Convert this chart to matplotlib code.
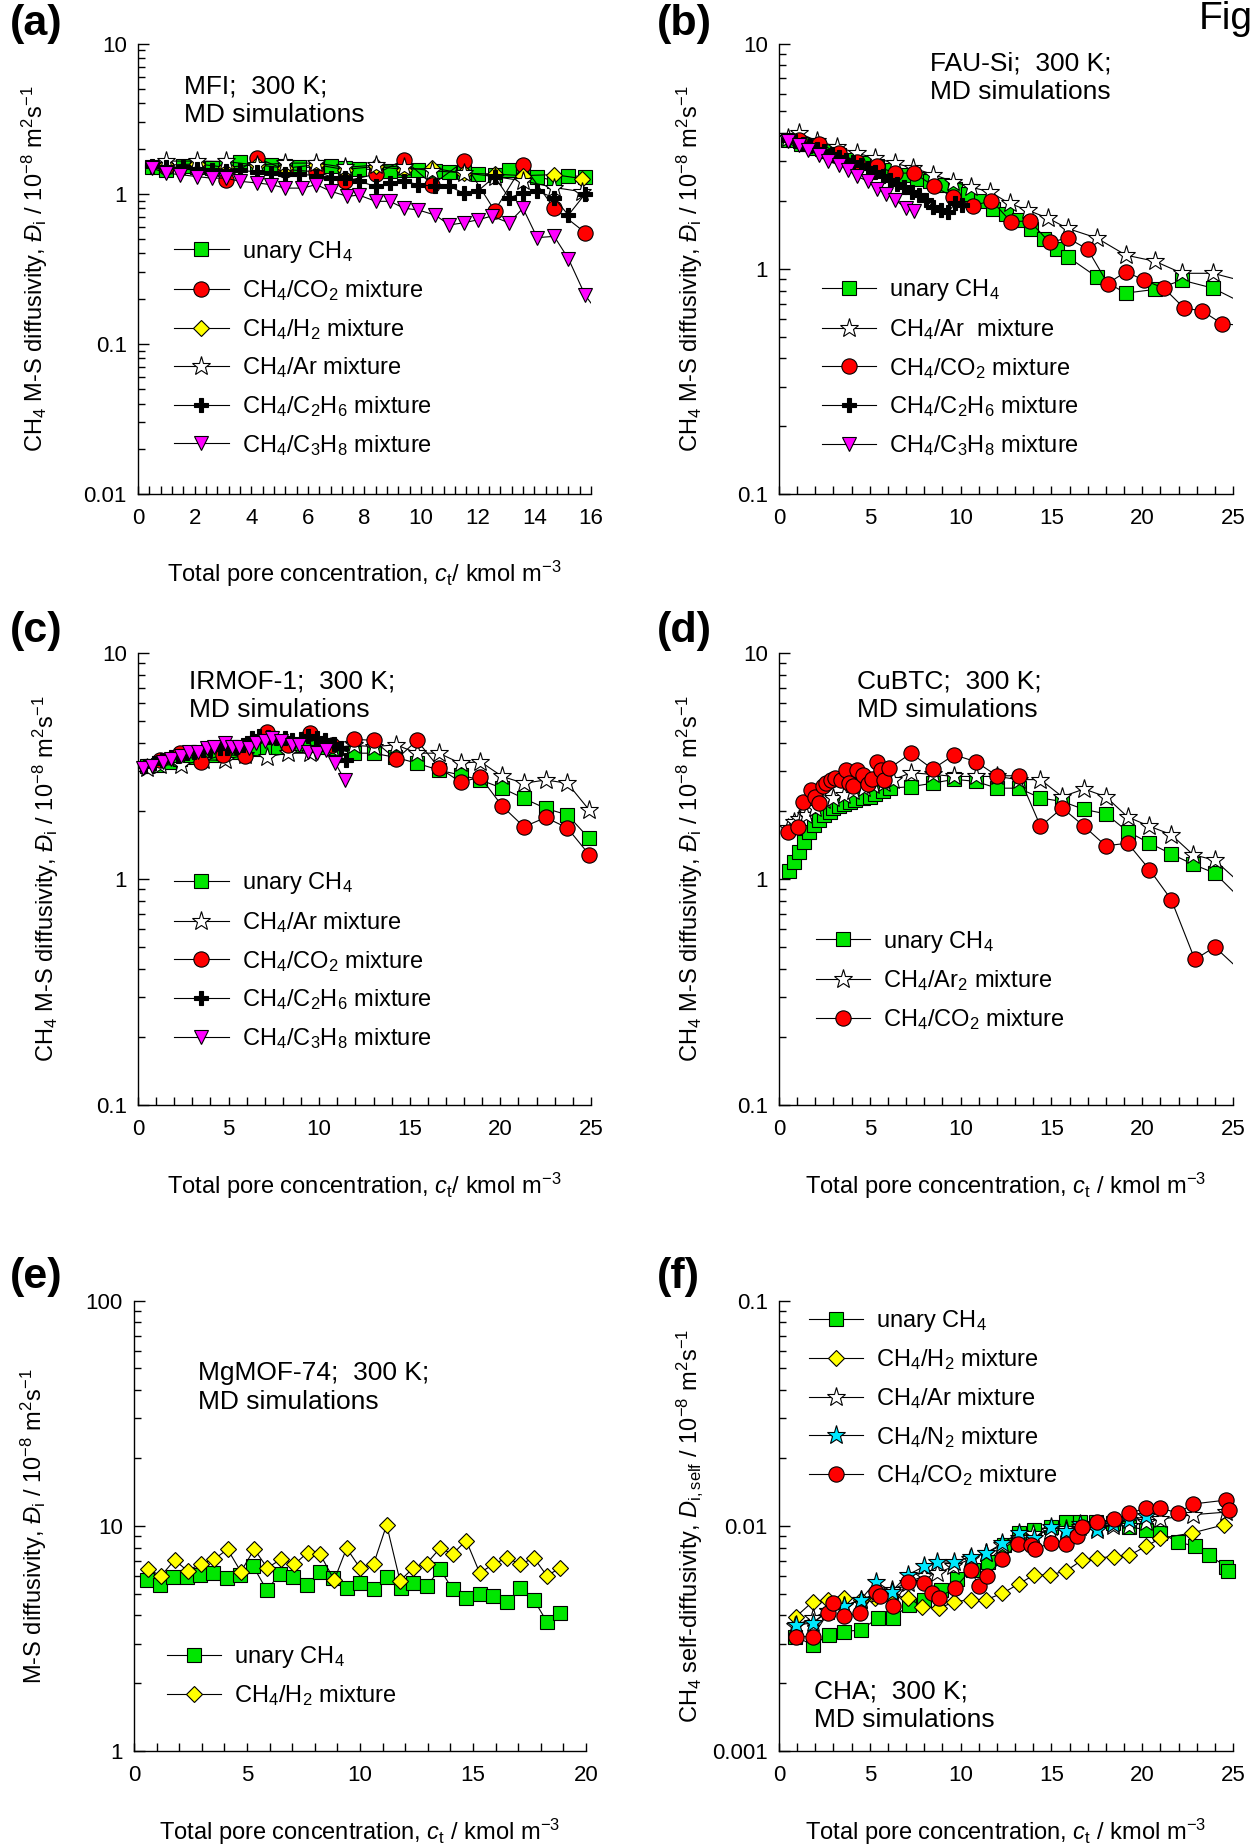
import numpy as np
import matplotlib
matplotlib.use('Agg')
import matplotlib.pyplot as plt
from matplotlib.lines import Line2D
from matplotlib.ticker import FixedLocator, MultipleLocator, LogLocator, NullFormatter

plt.rcParams['font.family'] = ['Liberation Sans', 'DejaVu Sans']
plt.rcParams['mathtext.fontset'] = 'custom'
plt.rcParams['mathtext.rm'] = 'Liberation Sans'
plt.rcParams['mathtext.it'] = 'Liberation Sans:italic'
plt.rcParams['mathtext.bf'] = 'Liberation Sans:bold'

# ---------------- data ----------------
# (a) MFI
a_unary_x = [0.5, 1.0, 1.6, 2.1, 2.6, 3.1, 3.6, 4.2, 4.7, 5.2, 5.7, 6.3, 6.8, 7.3, 7.8, 8.4, 8.9, 9.4, 9.9, 10.5,
             11.0, 11.5, 12.0, 12.6, 13.1, 13.6, 14.1, 14.7, 15.2, 15.8]
a_unary_y = [1.50, 1.45, 1.52, 1.50, 1.48, 1.55, 1.62, 1.60, 1.55, 1.52, 1.50, 1.50, 1.52, 1.48, 1.46, 1.45, 1.42,
             1.45, 1.44, 1.42, 1.40, 1.40, 1.36, 1.34, 1.45, 1.38, 1.30, 1.22, 1.32, 1.30]
a_co2_x = [1.0, 2.1, 3.1, 4.2, 5.2, 6.3, 7.3, 8.4, 9.4, 10.4, 11.5, 12.6, 13.6, 14.7, 15.8]
a_co2_y = [1.50, 1.50, 1.24, 1.73, 1.45, 1.40, 1.21, 1.35, 1.69, 1.15, 1.64, 0.77, 1.56, 0.80, 0.55]
a_h2_x = [1.0, 2.1, 3.1, 4.2, 5.2, 6.3, 7.3, 8.4, 9.4, 10.4, 11.5, 12.6, 13.6, 14.7, 15.7]
a_h2_y = [1.55, 1.58, 1.50, 1.56, 1.48, 1.56, 1.45, 1.52, 1.45, 1.48, 1.37, 1.35, 1.32, 1.34, 1.26]
a_ar_x = [1.0, 2.1, 3.1, 4.2, 5.2, 6.3, 7.3, 8.4, 9.4, 10.4, 11.5, 12.6, 13.6, 14.7, 15.7]
a_ar_y = [1.65, 1.65, 1.64, 1.55, 1.60, 1.60, 1.50, 1.55, 1.50, 1.42, 1.38, 1.30, 1.22, 1.10, 1.03]
a_c2h6_x = [0.5, 1.0, 1.6, 2.1, 2.6, 3.1, 3.6, 4.2, 4.7, 5.2, 5.7, 6.3, 6.8, 7.3, 7.8, 8.4, 8.9, 9.4, 9.9, 10.5,
            11.0, 11.5, 12.0, 12.6, 13.1, 13.6, 14.1, 14.7, 15.2, 15.8]
a_c2h6_y = [1.52, 1.50, 1.50, 1.47, 1.45, 1.42, 1.43, 1.40, 1.38, 1.36, 1.35, 1.32, 1.27, 1.28, 1.21, 1.12, 1.18,
            1.21, 1.15, 1.12, 1.12, 1.01, 1.04, 1.30, 0.94, 1.01, 1.04, 0.94, 0.72, 1.00]
a_c3h8_x = [0.5, 1.0, 1.5, 2.1, 2.6, 3.1, 3.6, 4.2, 4.7, 5.2, 5.8, 6.3, 6.8, 7.4, 7.8, 8.4, 8.9, 9.4, 9.9, 10.5,
            11.0, 11.5, 12.0, 12.5, 13.1, 13.6, 14.1, 14.7, 15.2, 15.8, 16.5]
a_c3h8_y = [1.48, 1.37, 1.34, 1.30, 1.27, 1.27, 1.21, 1.18, 1.15, 1.09, 1.09, 1.15, 1.04, 0.96, 0.98, 0.89, 0.89,
            0.80, 0.78, 0.72, 0.62, 0.64, 0.67, 0.71, 0.64, 0.80, 0.51, 0.52, 0.37, 0.21, 0.14]

# (b) FAU-Si
b_unary_x = [0.5, 1.2, 1.9, 2.6, 3.3, 4.0, 4.7, 5.4, 6.2, 6.9, 7.6, 8.3, 9.0, 9.7, 10.4, 11.1, 11.8, 12.5, 13.2,
             13.9, 14.6, 15.3, 15.9, 17.5, 19.1, 20.7, 22.2, 23.9, 25.6]
b_unary_y = [3.75, 3.6, 3.45, 3.35, 3.2, 3.05, 2.95, 2.85, 2.75, 2.6, 2.5, 2.45, 2.35, 2.25, 2.15, 2.0, 1.85, 1.75,
             1.65, 1.5, 1.35, 1.22, 1.13, 0.92, 0.78, 0.81, 0.89, 0.82, 0.70]
b_ar_x = [0.5, 1.1, 2.1, 3.2, 4.3, 5.3, 6.4, 7.4, 8.5, 9.6, 10.6, 11.6, 12.7, 13.7, 14.8, 15.9, 17.5, 19.1, 20.7,
          22.2, 23.9, 25.6]
b_ar_y = [3.8, 4.0, 3.7, 3.48, 3.26, 3.10, 2.94, 2.80, 2.62, 2.44, 2.30, 2.20, 1.95, 1.82, 1.68, 1.51, 1.37, 1.15,
          1.08, 0.955, 0.955, 0.88]
b_co2_x = [1.1, 2.2, 3.3, 4.3, 5.4, 6.4, 7.45, 8.55, 9.56, 10.66, 11.7, 12.77, 13.8, 14.9, 15.9, 17.0, 18.1, 19.1,
           20.1, 21.2, 22.3, 23.3, 24.4, 25.6]
b_co2_y = [3.75, 3.6, 3.26, 2.99, 2.85, 2.66, 2.66, 2.32, 2.09, 1.90, 2.01, 1.62, 1.63, 1.31, 1.37, 1.22, 0.86, 0.97,
           0.89, 0.82, 0.67, 0.65, 0.57, 0.56]
b_c2h6_x = [0.5, 0.9, 1.3, 1.7, 2.1, 2.5, 2.9, 3.3, 3.7, 4.1, 4.5, 4.9, 5.3, 5.7, 6.1, 6.5, 6.9, 7.3, 7.7, 8.1, 8.5,
            8.9, 9.3, 9.7, 10.1]
b_c2h6_y = [3.75, 3.68, 3.60, 3.50, 3.42, 3.33, 3.25, 3.15, 3.05, 2.98, 2.90, 2.80, 2.68, 2.57, 2.48, 2.38, 2.30,
            2.20, 2.12, 2.02, 1.88, 1.82, 1.78, 1.95, 1.92]
b_c3h8_x = [0.5, 1.1, 1.6, 2.2, 2.7, 3.3, 3.8, 4.3, 4.9, 5.4, 5.9, 6.4, 7.0, 7.45]
b_c3h8_y = [3.7, 3.55, 3.37, 3.2, 3.0, 2.9, 2.75, 2.57, 2.45, 2.27, 2.15, 2.02, 1.86, 1.80]

# (c) IRMOF-1
c_unary_x = [0.5, 1.1, 1.7, 2.3, 2.9, 3.5, 4.1, 4.7, 5.3, 5.9, 6.5, 7.1, 7.7, 8.3, 8.9, 9.5, 10.1, 10.7, 11.9, 13.0,
             14.2, 15.4, 16.6, 17.8, 18.9, 20.1, 21.3, 22.5, 23.7, 24.9]
c_unary_y = [3.15, 3.2, 3.3, 3.4, 3.45, 3.5, 3.55, 3.6, 3.65, 3.7, 3.75, 3.8, 3.85, 3.9, 3.9, 3.9, 3.85, 3.8, 3.6,
             3.6, 3.45, 3.25, 3.03, 2.88, 2.74, 2.52, 2.27, 2.05, 1.92, 1.51]
c_ar_x = [0.5, 1.2, 2.4, 3.6, 4.8, 5.9, 7.1, 8.3, 9.5, 10.7, 11.9, 13.0, 14.25, 15.4, 16.6, 17.8, 18.9, 20.1, 21.3,
          22.5, 23.7, 24.9]
c_ar_y = [3.1, 3.2, 3.19, 3.36, 3.35, 3.55, 3.47, 3.6, 3.6, 3.79, 3.9, 3.85, 3.92, 3.6, 3.6, 3.25, 3.3, 2.84, 2.65,
          2.74, 2.65, 2.02]
c_co2_x = [1.2, 2.3, 3.5, 4.7, 5.9, 7.1, 8.3, 9.5, 10.7, 11.9, 13.0, 14.25, 15.4, 16.6, 17.8, 18.9, 20.1, 21.3, 22.5,
           23.7, 24.9]
c_co2_y = [3.35, 3.6, 3.3, 3.55, 3.5, 4.45, 3.9, 4.4, 3.9, 4.15, 4.1, 3.38, 4.1, 3.11, 2.68, 2.82, 2.10, 1.70, 1.87,
           1.68, 1.28]
c_c2h6_x = [0.4, 0.9, 1.3, 1.8, 2.2, 2.7, 3.1, 3.6, 4.0, 4.5, 4.9, 5.4, 5.8, 6.3, 6.7, 7.2, 7.6, 8.1, 8.5, 9.0, 9.4,
            9.9, 10.3, 10.8, 11.2, 11.5]
c_c2h6_y = [3.15, 3.25, 3.35, 3.45, 3.5, 3.6, 3.65, 3.7, 3.75, 3.8, 3.8, 3.85, 3.9, 4.2, 4.3, 4.25, 4.2, 4.2, 4.1,
            4.15, 4.3, 4.2, 4.1, 3.95, 3.8, 3.35]
c_c3h8_x = [0.3, 0.8, 1.4, 1.8, 2.4, 2.8, 3.3, 3.8, 4.2, 4.8, 5.2, 5.6, 6.1, 6.5, 7.0, 7.4, 7.9, 8.5, 8.9, 9.4, 9.9,
            10.4, 10.9, 11.4]
c_c3h8_y = [3.09, 3.15, 3.3, 3.4, 3.49, 3.65, 3.65, 3.79, 3.85, 3.98, 3.85, 3.85, 3.79, 3.98, 4.07, 4.22, 4.07, 3.92,
            3.92, 3.65, 3.6, 3.72, 3.25, 2.74]

# (d) CuBTC
d_unary_x = [0.57, 0.84, 1.12, 1.39, 1.67, 1.94, 2.2, 2.5, 2.8, 3.0, 3.3, 3.6, 3.9, 4.2, 4.6, 5.0, 5.3, 5.7, 6.1,
             7.27, 8.46, 9.65, 10.84, 12.0, 13.2, 14.4, 15.6, 16.8, 18.0, 19.2, 20.4, 21.6, 22.8, 24.0, 25.6]
d_unary_y = [1.08, 1.19, 1.32, 1.46, 1.62, 1.73, 1.82, 1.92, 1.98, 2.05, 2.1, 2.15, 2.2, 2.24, 2.28, 2.31, 2.38, 2.44,
             2.52, 2.56, 2.65, 2.76, 2.7, 2.52, 2.52, 2.28, 2.2, 2.03, 1.94, 1.62, 1.44, 1.29, 1.16, 1.06, 0.79]
d_ar_x = [0.5, 0.8, 1.1, 1.5, 2.0, 2.5, 3.0, 3.6, 4.1, 4.7, 5.2, 5.8, 6.3, 7.27, 8.46, 9.65, 10.84, 12.0, 13.2,
          14.4, 15.6, 16.8, 18.0, 19.2, 20.4, 21.6, 22.8, 24.0, 25.6]
d_ar_y = [1.68, 1.78, 1.85, 1.92, 2.05, 2.24, 2.28, 2.35, 2.45, 2.52, 2.6, 2.65, 2.75, 2.95, 2.9, 2.84, 2.84, 2.84,
          2.75, 2.75, 2.31, 2.5, 2.31, 1.88, 1.71, 1.57, 1.28, 1.21, 0.925]
d_co2_x = [0.48, 1.03, 1.3, 1.76, 2.0, 2.2, 2.4, 2.6, 2.86, 3.1, 3.4, 3.69, 3.87, 4.1, 4.3, 4.6, 4.9, 5.1, 5.4, 5.6,
           5.8, 6.07, 7.27, 8.46, 9.65, 10.84, 12.0, 13.2, 14.4, 15.6, 16.8, 18.0, 19.2, 20.4, 21.6, 22.9, 24.0, 25.6]
d_co2_y = [1.62, 1.70, 2.2, 2.48, 2.3, 2.16, 2.58, 2.65, 2.74, 2.8, 2.74, 3.03, 2.65, 2.58, 3.03, 2.88, 2.62, 2.78,
           3.3, 3.03, 2.74, 3.08, 3.6, 3.06, 3.54, 3.3, 2.86, 2.86, 1.71, 2.06, 1.71, 1.40, 1.44, 1.10, 0.81, 0.44,
           0.50, 0.38]

# (e) MgMOF-74
e_unary_x = [0.56, 1.15, 1.74, 2.33, 2.92, 3.51, 4.1, 4.69, 5.28, 5.87, 6.46, 7.05, 7.64, 8.23, 8.82, 9.41, 10.0,
             10.6, 11.2, 11.8, 12.36, 12.95, 13.54, 14.1, 14.7, 15.3, 15.9, 16.5, 17.1, 17.7, 18.27, 18.86]
e_unary_y = [5.74, 5.46, 5.94, 5.94, 6.05, 6.2, 5.85, 6.05, 6.6, 5.19, 6.1, 5.9, 5.46, 6.25, 5.85, 5.27, 5.6, 5.22,
             5.9, 5.27, 5.55, 5.4, 6.42, 5.22, 4.77, 4.98, 4.9, 4.6, 5.27, 4.68, 3.75, 4.11]
e_h2_x = [0.6, 1.2, 1.8, 2.37, 2.96, 3.55, 4.14, 4.73, 5.32, 5.9, 6.5, 7.1, 7.68, 8.23, 8.86, 9.41, 10.0, 10.6,
          11.18, 11.77, 12.36, 12.95, 13.54, 14.1, 14.7, 15.3, 15.9, 16.5, 17.1, 17.7, 18.27, 18.86]
e_h2_y = [6.42, 6.0, 7.05, 6.3, 6.8, 7.1, 7.87, 6.25, 7.87, 6.5, 7.1, 6.75, 7.6, 7.5, 5.74, 7.95, 6.5, 6.75, 10.1,
          5.7, 6.5, 6.8, 7.95, 7.5, 8.6, 6.17, 6.75, 7.2, 6.75, 7.2, 6.0, 6.5]

# (f) CHA, self-diffusivities
f_unary_x = [0.9, 1.85, 2.77, 3.6, 4.5, 5.43, 6.26, 7.17, 8.0, 8.9, 9.8, 10.66, 11.5, 12.4, 13.2, 14.05, 15.0, 15.8,
             16.6, 17.45, 18.4, 19.3, 20.2, 21.0, 21.95, 22.9, 23.7, 24.6, 24.7]
f_unary_y = [0.00322, 0.00296, 0.00327, 0.00339, 0.00345, 0.00388, 0.0039, 0.00445, 0.0047, 0.00519, 0.0058,
             0.00637, 0.00694, 0.00822, 0.00927, 0.0096, 0.0099, 0.0104, 0.0104, 0.0104, 0.0103, 0.0099, 0.0096,
             0.0093, 0.0085, 0.0081, 0.0074, 0.00659, 0.0063]
f_h2_x = [0.94, 1.85, 2.7, 3.6, 4.5, 5.3, 6.2, 7.08, 7.9, 8.8, 9.65, 10.57, 11.4, 12.3, 13.2, 14.05, 14.9, 15.8,
          16.7, 17.5, 18.46, 19.3, 20.2, 21.0, 22.77, 24.5]
f_h2_y = [0.00395, 0.0046, 0.0047, 0.0048, 0.0047, 0.0048, 0.0049, 0.0048, 0.00438, 0.0043, 0.0046, 0.0047, 0.0047,
          0.00501, 0.00552, 0.00605, 0.00605, 0.0063, 0.00705, 0.0072, 0.0073, 0.0074, 0.0081, 0.0088, 0.0093,
          0.0101]
f_ar_x = [0.9, 1.85, 2.7, 3.6, 4.5, 5.4, 6.2, 7.1, 8.0, 8.7, 9.6, 10.5, 11.4, 12.3, 13.2, 14.0, 14.9, 15.8, 16.6,
          17.5, 18.4, 19.3, 20.2, 21.0, 22.8, 24.6]
f_ar_y = [0.0036, 0.0039, 0.0042, 0.0044, 0.0047, 0.0050, 0.0052, 0.0056, 0.0060, 0.00615, 0.0066, 0.0071, 0.0076,
          0.0082, 0.0088, 0.0092, 0.0095, 0.0097, 0.0099, 0.0098, 0.0100, 0.0100, 0.0104, 0.0107, 0.0112, 0.0115]
f_n2_x = [0.94, 1.85, 2.7, 3.6, 4.5, 5.34, 6.2, 7.08, 8.0, 8.7, 9.65, 10.57, 11.4, 12.3, 13.2, 14.05, 15.0, 15.8,
          16.6, 17.5, 18.4, 19.3, 20.2]
f_n2_y = [0.00363, 0.0037, 0.0042, 0.0044, 0.0047, 0.00565, 0.0051, 0.00605, 0.0066, 0.0069, 0.0069, 0.0073,
          0.00755, 0.00836, 0.0093, 0.0088, 0.0099, 0.0095, 0.0102, 0.0096, 0.0102, 0.0106, 0.0110]
f_co2_x = [0.94, 1.85, 2.68, 2.95, 3.6, 4.48, 5.34, 5.58, 6.26, 7.08, 7.96, 8.4, 8.8, 9.69, 10.57, 11.0, 11.45, 12.3,
           13.14, 13.9, 14.1, 15.0, 15.8, 16.4, 16.7, 17.5, 18.46, 19.3, 20.2, 21.0, 21.95, 22.8, 24.6, 24.8]
f_co2_y = [0.00322, 0.00322, 0.00408, 0.00456, 0.00397, 0.00408, 0.0051, 0.0049, 0.0044, 0.00565, 0.00555, 0.00505,
           0.0048, 0.0053, 0.00637, 0.0054, 0.00598, 0.0071, 0.0083, 0.0082, 0.0079, 0.0084, 0.0083, 0.0090, 0.0099,
           0.0104, 0.0107, 0.01135, 0.0120, 0.0120, 0.0114, 0.0125, 0.0130, 0.0118]

# tick labels
ticks_a = [0.01, 0.1, 1, 10]
labels_a = ['0.01', '0.1', '1', '10']
ticks_bcd = [0.1, 1, 10]
labels_bcd = ['0.1', '1', '10']
ticks_e = [1, 10, 100]
labels_e = ['1', '10', '100']
ticks_f = [0.001, 0.01, 0.1]
labels_f = ['0.001', '0.01', '0.1']

# ---------------- styling ----------------
STY = {
    'unary': dict(marker='s', markerfacecolor='#00e600', markersize=9.5),
    'co2': dict(marker='o', markerfacecolor='#ff0000', markersize=11),
    'h2': dict(marker='D', markerfacecolor='#ffff00', markersize=7.8),
    'ar': dict(marker='*', markerfacecolor='white', markersize=14),
    'n2': dict(marker='*', markerfacecolor='#00e8ff', markersize=14),
    'c2h6': dict(marker='P', markerfacecolor='black', markersize=10),
    'c3h8': dict(marker='v', markerfacecolor='#ff00ff', markersize=10.5),
}
LW = 0.8


def draw(ax, x, y, key, xmax, z):
    x = np.asarray(x)
    y = np.asarray(y)
    ax.plot(x, y, '-', color='black', lw=LW, zorder=z)
    keep = np.where(x <= xmax)[0]
    ax.plot(x[keep], y[keep], ls='none', markeredgecolor='black', markeredgewidth=0.8,
            clip_on=False, zorder=z + 0.5, **STY[key])


def legend(ax, keys, labels, anchor):
    handles = [Line2D([], [], color='black', lw=LW, markeredgecolor='black', markeredgewidth=0.8, **STY[k])
               for k in keys]
    ax.legend(handles, labels, loc='upper left', bbox_to_anchor=anchor, frameon=False, fontsize=17,
              handlelength=2.3, handletextpad=0.55, labelspacing=0.58, borderpad=0, borderaxespad=0,
              numpoints=1)


def setup(ax, xmax, xmaj, xmin, yticks, ylabels):
    ax.set_yscale('log')
    ax.set_xlim(0, xmax)
    ax.set_ylim(yticks[0], yticks[-1])
    for s in ['top', 'right']:
        ax.spines[s].set_visible(False)
    for s in ['left', 'bottom']:
        ax.spines[s].set_linewidth(1.0)
    ax.xaxis.set_major_locator(MultipleLocator(xmaj))
    ax.xaxis.set_minor_locator(MultipleLocator(xmin))
    ax.yaxis.set_major_locator(FixedLocator(yticks))
    ax.set_yticklabels(ylabels)
    ax.yaxis.set_minor_locator(LogLocator(base=10, subs=np.arange(2, 10)))
    ax.yaxis.set_minor_formatter(NullFormatter())
    ax.tick_params(axis='x', which='both', direction='in', length=6, width=1, labelsize=16, pad=10,
                   top=False)
    ax.tick_params(axis='y', which='major', direction='in', length=8, width=1, labelsize=16, pad=8,
                   right=False)
    ax.tick_params(axis='y', which='minor', direction='in', length=5, width=1, right=False)


def note(ax, x, y, txt):
    ax.text(x, y, txt, transform=ax.transAxes, fontsize=19, va='top', ha='left', linespacing=1.24)


fig = plt.figure(figsize=(12.51, 18.48), dpi=100)

ax_a = fig.add_axes([0.1103, 0.7327, 0.3621, 0.2437])
ax_b = fig.add_axes([0.6227, 0.7327, 0.3629, 0.2437])
ax_c = fig.add_axes([0.1103, 0.4021, 0.3621, 0.2446])
ax_d = fig.add_axes([0.6227, 0.4021, 0.3629, 0.2446])
ax_e = fig.add_axes([0.1071, 0.0525, 0.3613, 0.2437])
ax_f = fig.add_axes([0.6227, 0.0525, 0.3629, 0.2437])

ylab_md = r'CH$_4$ M-S diffusivity, $\mathit{Đ}_\mathrm{i}$ / 10$^{-8}$ m$^2$s$^{-1}$'
xlab1 = r'Total pore concentration, $\mathit{c}_\mathrm{t}$/ kmol m$^{-3}$'
xlab2 = r'Total pore concentration, $\mathit{c}_\mathrm{t}$ / kmol m$^{-3}$'

# (a)
setup(ax_a, 16, 2, 0.4, ticks_a, labels_a)
draw(ax_a, a_unary_x, a_unary_y, 'unary', 16, 2)
draw(ax_a, a_co2_x, a_co2_y, 'co2', 16, 3)
draw(ax_a, a_h2_x, a_h2_y, 'h2', 16, 4)
draw(ax_a, a_ar_x, a_ar_y, 'ar', 16, 5)
draw(ax_a, a_c2h6_x, a_c2h6_y, 'c2h6', 16, 6)
draw(ax_a, a_c3h8_x, a_c3h8_y, 'c3h8', 16, 7)
legend(ax_a, ['unary', 'co2', 'h2', 'ar', 'c2h6', 'c3h8'],
       ['unary CH$_4$', 'CH$_4$/CO$_2$ mixture', 'CH$_4$/H$_2$ mixture', 'CH$_4$/Ar mixture',
        'CH$_4$/C$_2$H$_6$ mixture', 'CH$_4$/C$_3$H$_8$ mixture'], (0.08, 0.567))
ax_a.set_ylabel(ylab_md, fontsize=17)
ax_a.yaxis.set_label_coords(-0.194, 0.5)
ax_a.set_xlabel(xlab1, fontsize=17)
ax_a.xaxis.set_label_coords(0.5, -0.145)
note(ax_a, 0.1015, 0.932, 'MFI;  300 K;\nMD simulations')

# (b)
setup(ax_b, 25, 5, 1, ticks_bcd, labels_bcd)
draw(ax_b, b_unary_x, b_unary_y, 'unary', 25, 2)
draw(ax_b, b_ar_x, b_ar_y, 'ar', 25, 3)
draw(ax_b, b_co2_x, b_co2_y, 'co2', 25, 4)
draw(ax_b, b_c2h6_x, b_c2h6_y, 'c2h6', 25, 5)
draw(ax_b, b_c3h8_x, b_c3h8_y, 'c3h8', 25, 6)
legend(ax_b, ['unary', 'ar', 'co2', 'c2h6', 'c3h8'],
       ['unary CH$_4$', 'CH$_4$/Ar  mixture', 'CH$_4$/CO$_2$ mixture', 'CH$_4$/C$_2$H$_6$ mixture',
        'CH$_4$/C$_3$H$_8$ mixture'], (0.095, 0.481))
ax_b.set_ylabel(ylab_md, fontsize=17)
ax_b.yaxis.set_label_coords(-0.163, 0.5)
note(ax_b, 0.333, 0.983, 'FAU-Si;  300 K;\nMD simulations')

# (c)
setup(ax_c, 25, 5, 1, ticks_bcd, labels_bcd)
draw(ax_c, c_unary_x, c_unary_y, 'unary', 25, 2)
draw(ax_c, c_ar_x, c_ar_y, 'ar', 25, 3)
draw(ax_c, c_co2_x, c_co2_y, 'co2', 25, 4)
draw(ax_c, c_c2h6_x, c_c2h6_y, 'c2h6', 25, 5)
draw(ax_c, c_c3h8_x, c_c3h8_y, 'c3h8', 25, 6)
legend(ax_c, ['unary', 'ar', 'co2', 'c2h6', 'c3h8'],
       ['unary CH$_4$', 'CH$_4$/Ar mixture', 'CH$_4$/CO$_2$ mixture', 'CH$_4$/C$_2$H$_6$ mixture',
        'CH$_4$/C$_3$H$_8$ mixture'], (0.08, 0.519))
ax_c.set_ylabel(ylab_md, fontsize=17)
ax_c.yaxis.set_label_coords(-0.17, 0.5)
ax_c.set_xlabel(xlab1, fontsize=17)
ax_c.xaxis.set_label_coords(0.5, -0.146)
note(ax_c, 0.113, 0.964, 'IRMOF-1;  300 K;\nMD simulations')

# (d)
setup(ax_d, 25, 5, 1, ticks_bcd, labels_bcd)
draw(ax_d, d_unary_x, d_unary_y, 'unary', 25, 2)
draw(ax_d, d_ar_x, d_ar_y, 'ar', 25, 3)
draw(ax_d, d_co2_x, d_co2_y, 'co2', 25, 4)
legend(ax_d, ['unary', 'ar', 'co2'],
       ['unary CH$_4$', 'CH$_4$/Ar$_2$ mixture', 'CH$_4$/CO$_2$ mixture'], (0.0815, 0.39))
ax_d.set_ylabel(ylab_md, fontsize=17)
ax_d.yaxis.set_label_coords(-0.163, 0.5)
ax_d.set_xlabel(xlab2, fontsize=17)
ax_d.xaxis.set_label_coords(0.5, -0.146)
note(ax_d, 0.172, 0.964, 'CuBTC;  300 K;\nMD simulations')

# (e)
setup(ax_e, 20, 5, 1, ticks_e, labels_e)
draw(ax_e, e_unary_x, e_unary_y, 'unary', 20, 2)
draw(ax_e, e_h2_x, e_h2_y, 'h2', 20, 3)
legend(ax_e, ['unary', 'h2'], ['unary CH$_4$', 'CH$_4$/H$_2$ mixture'], (0.073, 0.238))
ax_e.set_ylabel(r'M-S diffusivity, $\mathit{Đ}_\mathrm{i}$ / 10$^{-8}$ m$^2$s$^{-1}$', fontsize=17)
ax_e.yaxis.set_label_coords(-0.187, 0.5)
ax_e.set_xlabel(xlab2, fontsize=17)
ax_e.xaxis.set_label_coords(0.5, -0.147)
note(ax_e, 0.142, 0.865, 'MgMOF-74;  300 K;\nMD simulations')

# (f)
setup(ax_f, 25, 5, 1, ticks_f, labels_f)
draw(ax_f, f_unary_x, f_unary_y, 'unary', 25, 2)
draw(ax_f, f_h2_x, f_h2_y, 'h2', 25, 3)
draw(ax_f, f_ar_x, f_ar_y, 'ar', 25, 4)
draw(ax_f, f_n2_x, f_n2_y, 'n2', 25, 5)
draw(ax_f, f_co2_x, f_co2_y, 'co2', 25, 6)
legend(ax_f, ['unary', 'h2', 'ar', 'n2', 'co2'],
       ['unary CH$_4$', 'CH$_4$/H$_2$ mixture', 'CH$_4$/Ar mixture', 'CH$_4$/N$_2$ mixture',
        'CH$_4$/CO$_2$ mixture'], (0.066, 0.984))
ax_f.set_ylabel(r'CH$_4$ self-diffusivity, $\mathit{D}_\mathrm{i,self}$ / 10$^{-8}$ m$^2$s$^{-1}$', fontsize=17)
ax_f.yaxis.set_label_coords(-0.163, 0.5)
ax_f.set_xlabel(xlab2, fontsize=17)
ax_f.xaxis.set_label_coords(0.5, -0.147)
note(ax_f, 0.077, 0.158, 'CHA;  300 K;\nMD simulations')

# panel letters
for lab, px, py in [('(a)', 0.008, 0.987), ('(b)', 0.525, 0.987), ('(c)', 0.008, 0.6586),
                    ('(d)', 0.525, 0.6586), ('(e)', 0.008, 0.309), ('(f)', 0.525, 0.309)]:
    fig.text(px, py, lab, fontsize=31, fontweight='bold', ha='left', va='center')

fig.text(0.958, 0.9995, 'Fig', fontsize=28, ha='left', va='top')

fig.savefig('out.png', dpi=100)
